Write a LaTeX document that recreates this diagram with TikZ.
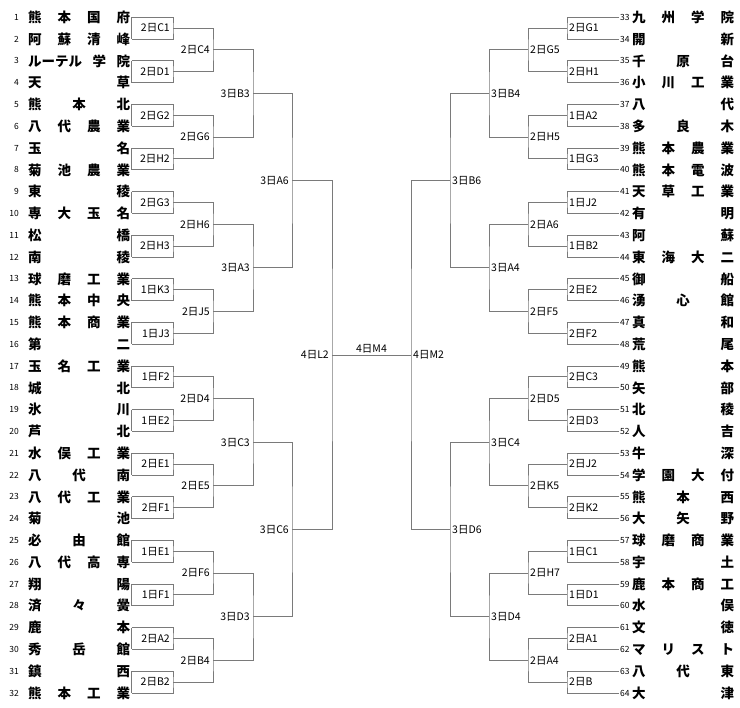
\documentclass[tikz,border=0pt]{standalone}
\usepackage{fontspec}
\setmainfont{Noto Sans CJK JP}
\usepackage{xcolor}
\usepackage{tikz}
\usetikzlibrary{positioning, calc}
\definecolor{linegray}{HTML}{7A7A7A}
\newlength\namew
\setlength\namew{102pt}
\newcommand\jname[1]{\makebox[\namew][s]{\spaceskip=0pt plus 1fil\relax #1}}

\begin{document}
\begin{tikzpicture}[x=1pt, y=-1pt,
    bline/.style={draw=linegray, line width=1pt},
    num/.style={inner xsep=1pt, inner ysep=0pt, font=\fontsize{8.5}{9}\selectfont},
    team/.style={inner xsep=1.5pt, inner ysep=0pt, font=\bfseries\fontsize{13.5}{15}\selectfont},
    lbl/.style={inner sep=0pt, font=\fontsize{10.5}{11}\selectfont}]
  \useasboundingbox (0,0) rectangle (740,708);

  % left half: teams 1-32
  \foreach \n/\s in {1/{熊 本 国 府}, 2/{阿 蘇 清 峰}, 3/{ルーテル 学 院}, 4/{天 草},
      5/{熊 本 北}, 6/{八 代 農 業}, 7/{玉 名}, 8/{菊 池 農 業}, 9/{東 稜}, 10/{専 大 玉 名},
      11/{松 橋}, 12/{南 稜}, 13/{球 磨 工 業}, 14/{熊 本 中 央}, 15/{熊 本 商 業}, 16/{第 二},
      17/{玉 名 工 業}, 18/{城 北}, 19/{氷 川}, 20/{芦 北}, 21/{水 俣 工 業}, 22/{八 代 南},
      23/{八 代 工 業}, 24/{菊 池}, 25/{必 由 館}, 26/{八 代 高 専}, 27/{翔 陽}, 28/{済 々 黌},
      29/{鹿 本}, 30/{秀 岳 館}, 31/{鎮 西}, 32/{熊 本 工 業}}{
    \node[num, anchor=east] (nL\n) at (20, {17.3+(\n-1)*21.8}) {\n};
    \node[team, anchor=west] (tL\n) at (26.5, {17.3+(\n-1)*21.8}) {\jname{\s}};
  }

  % right half: teams 33-64
  \foreach \n/\s in {33/{九 州 学 院}, 34/{開 新}, 35/{千 原 台}, 36/{小 川 工 業}, 37/{八 代},
      38/{多 良 木}, 39/{熊 本 農 業}, 40/{熊 本 電 波}, 41/{天 草 工 業}, 42/{有 明}, 43/{阿 蘇},
      44/{東 海 大 二}, 45/{御 船}, 46/{湧 心 館}, 47/{真 和}, 48/{荒 尾}, 49/{熊 本}, 50/{矢 部},
      51/{北 稜}, 52/{人 吉}, 53/{牛 深}, 54/{学 園 大 付}, 55/{熊 本 西}, 56/{大 矢 野},
      57/{球 磨 商 業}, 58/{宇 土}, 59/{鹿 本 商 工}, 60/{水 俣}, 61/{文 徳}, 62/{マ リ ス ト},
      63/{八 代 東}, 64/{大 津}}{
    \node[num, anchor=west] (nR\n) at (619, {17.3+(\n-33)*21.8}) {\n};
    \node[team, anchor=west] (tR\n) at (630.5, {17.3+(\n-33)*21.8}) {\jname{\s}};
  }

  % left, first round
  \foreach \j/\lab in {1/2日C1, 2/2日D1, 3/2日G2, 4/2日H2, 5/2日G3, 6/2日H3, 7/1日K3, 8/1日J3,
      9/1日F2, 10/1日E2, 11/2日E1, 12/2日F1, 13/1日E1, 14/1日F1, 15/2日A2, 16/2日B2}{
    \pgfmathtruncatemacro\p{2*\j-1}
    \pgfmathtruncatemacro\q{2*\j}
    \coordinate (aL\j) at (173, {17.3+(2*\j-1.5)*21.8});
    \draw[bline] (tL\p.east) -| (aL\j) |- (tL\q.east);
    \draw[bline] (tL\p.east) -- (tL\q.east);
    \node[lbl, left=3pt of aL\j] (laL\j) {\lab};
  }
  \foreach \j/\lab in {1/2日C4, 2/2日G6, 3/2日H6, 4/2日J5, 5/2日D4, 6/2日E5, 7/2日F6, 8/2日B4}{
    \pgfmathtruncatemacro\p{2*\j-1}
    \pgfmathtruncatemacro\q{2*\j}
    \coordinate (bL\j) at (213, {17.3+(4*\j-2.5)*21.8});
    \draw[bline] (aL\p) -| (bL\j) |- (aL\q);
    \node[lbl, left=3pt of bL\j] (lbL\j) {\lab};
  }
  \foreach \j/\lab in {1/3日B3, 2/3日A3, 3/3日C3, 4/3日D3}{
    \pgfmathtruncatemacro\p{2*\j-1}
    \pgfmathtruncatemacro\q{2*\j}
    \coordinate (cL\j) at (253, {17.3+(8*\j-4.5)*21.8});
    \draw[bline] (bL\p) -| (cL\j) |- (bL\q);
    \node[lbl, left=3pt of cL\j] (lcL\j) {\lab};
  }
  \foreach \j/\lab in {1/3日A6, 2/3日C6}{
    \pgfmathtruncatemacro\p{2*\j-1}
    \pgfmathtruncatemacro\q{2*\j}
    \coordinate (dL\j) at (292, {17.3+(16*\j-8.5)*21.8});
    \draw[bline] (cL\p) -| (dL\j) |- (cL\q);
    \node[lbl, left=3pt of dL\j] (ldL\j) {\lab};
  }
  \coordinate (eL) at (332, {17.3+15.5*21.8});
  \draw[bline] (dL1) -| (eL) |- (dL2);
  \node[lbl, left=3pt of eL] (leL) {4日L2};

  % right, first round
  \foreach \j/\lab in {1/2日G1, 2/2日H1, 3/1日A2, 4/1日G3, 5/1日J2, 6/1日B2, 7/2日E2, 8/2日F2,
      9/2日C3, 10/2日D3, 11/2日J2, 12/2日K2, 13/1日C1, 14/1日D1, 15/2日A1, 16/2日B}{
    \pgfmathtruncatemacro\p{31+2*\j}
    \pgfmathtruncatemacro\q{32+2*\j}
    \coordinate (aR\j) at (567, {17.3+(2*\j-1.5)*21.8});
    \draw[bline] (nR\p.west) -| (aR\j) |- (nR\q.west);
    \node[lbl, right=2pt of aR\j] (laR\j) {\lab};
  }
  \foreach \j/\lab in {1/2日G5, 2/2日H5, 3/2日A6, 4/2日F5, 5/2日D5, 6/2日K5, 7/2日H7, 8/2日A4}{
    \pgfmathtruncatemacro\p{2*\j-1}
    \pgfmathtruncatemacro\q{2*\j}
    \coordinate (bR\j) at (528, {17.3+(4*\j-2.5)*21.8});
    \draw[bline] (aR\p) -| (bR\j) |- (aR\q);
    \node[lbl, right=2pt of bR\j] (lbR\j) {\lab};
  }
  \foreach \j/\lab in {1/3日B4, 2/3日A4, 3/3日C4, 4/3日D4}{
    \pgfmathtruncatemacro\p{2*\j-1}
    \pgfmathtruncatemacro\q{2*\j}
    \coordinate (cR\j) at (489, {17.3+(8*\j-4.5)*21.8});
    \draw[bline] (bR\p) -| (cR\j) |- (bR\q);
    \node[lbl, right=2pt of cR\j] (lcR\j) {\lab};
  }
  \foreach \j/\lab in {1/3日B6, 2/3日D6}{
    \pgfmathtruncatemacro\p{2*\j-1}
    \pgfmathtruncatemacro\q{2*\j}
    \coordinate (dR\j) at (450, {17.3+(16*\j-8.5)*21.8});
    \draw[bline] (cR\p) -| (dR\j) |- (cR\q);
    \node[lbl, right=2pt of dR\j] (ldR\j) {\lab};
  }
  \coordinate (eR) at (411, {17.3+15.5*21.8});
  \draw[bline] (dR1) -| (eR) |- (dR2);
  \node[lbl, right=2pt of eR] (leR) {4日M2};

  % final
  \draw[bline] (eL) -- (eR) node[lbl, midway, above=1pt] (lm4) {4日M4};
\end{tikzpicture}
\end{document}
